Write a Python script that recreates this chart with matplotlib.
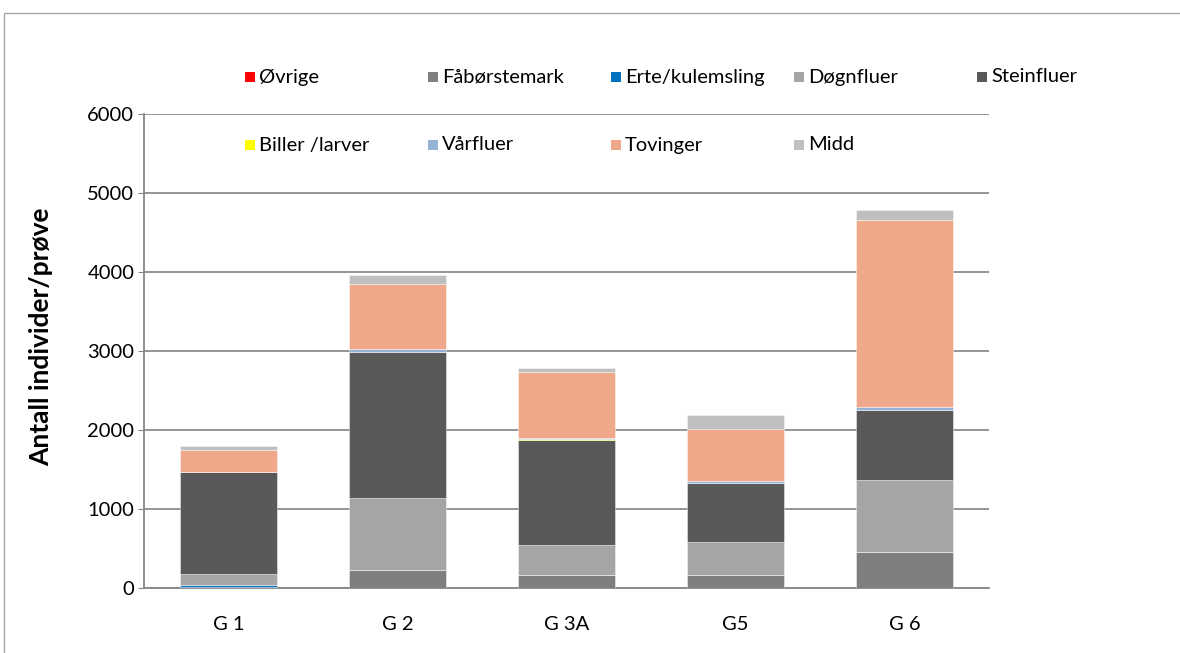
import matplotlib
matplotlib.use("Agg")
import matplotlib.pyplot as plt
from matplotlib.patches import Rectangle
import numpy as np

plt.rcParams['font.family'] = ['Lato', 'DejaVu Sans']

categories = ["G 1", "G 2", "G 3A", "G5", "G 6"]
series_names = ["Øvrige", "Fåbørstemark", "Erte/kulemsling", "Døgnfluer", "Steinfluer",
                "Biller /larver", "Vårfluer", "Tovinger", "Midd"]
ovrige = [0, 0, 0, 0, 0]
fabørstemark = [10, 231, 168, 168, 453]
erte = [30, 0, 0, 0, 0]
dognfluer = [132, 913, 379, 420, 914]
steinfluer = [1291, 1847, 1323, 740, 890]
biller = [0, 0, 10, 0, 0]
varfluer = [5, 30, 25, 30, 30]
tovinger = [278, 829, 834, 653, 2376]
midd = [54, 109, 46, 177, 126]
colors = ["#FF0000", "#7F7F7F", "#0070C0", "#A5A5A5", "#595959",
          "#FFFF00", "#95B3D7", "#F0A88A", "#BFBFBF"]
yticks = [0, 1000, 2000, 3000, 4000, 5000, 6000]

data = [ovrige, fabørstemark, erte, dognfluer, steinfluer, biller, varfluer, tovinger, midd]

fig = plt.figure(figsize=(11.8, 6.53), dpi=100)
ax = fig.add_axes([144/1180, 1-588/653, (989-144)/1180, (588-114)/653])

x = np.arange(len(categories))
bottom = np.zeros(len(categories))
for name, vals, c in zip(series_names, data, colors):
    ax.bar(x, vals, width=0.57, bottom=bottom, color=c, label=name,
           edgecolor=(1, 1, 1, 0.5), linewidth=0.6, zorder=3)
    bottom += np.array(vals)

ax.set_xlim(-0.5, 4.5)
ax.set_ylim(0, 6000)
ax.set_yticks(yticks)
ax.set_yticklabels([str(v) for v in yticks], fontsize=14.5)
ax.set_xticks(x)
ax.set_xticklabels(categories, fontsize=14.5)
ax.tick_params(axis='y', length=4, color='#868686', pad=3)
ax.tick_params(axis='x', length=0, pad=20)
ax.yaxis.grid(True, color='#8C8C8C', linewidth=1.3, zorder=0)
ax.set_axisbelow(True)
for s in ['top', 'right']:
    ax.spines[s].set_visible(False)
ax.spines['left'].set_color('#868686')
ax.spines['bottom'].set_color('#868686')
ax.spines['left'].set_linewidth(1.3)
ax.spines['bottom'].set_linewidth(1.3)
ax.set_ylabel("Antall individer/prøve", fontsize=19, fontweight='bold')
ax.yaxis.set_label_coords(-0.107, 0.53)

# legend: two rows, five columns, placed like the reference
col_x = [245, 428, 611, 794, 977]
row_y = [77, 145]
order = [[0, 1, 2, 3, 4], [5, 6, 7, 8]]
W, H = 1180.0, 653.0
for r, idxs in enumerate(order):
    for cidx, i in enumerate(idxs):
        x0 = col_x[cidx]
        y0 = row_y[r]
        fig.add_artist(Rectangle((x0 / W, 1 - (y0 + 5) / H), 10 / W, 10 / H,
                                 transform=fig.transFigure, facecolor=colors[i],
                                 edgecolor='none'))
        fig.text((x0 + 14) / W, 1 - y0 / H, series_names[i], fontsize=14.5,
                 va='center', ha='left')

fig.add_artist(Rectangle((4/1180, -0.1), 1.2, 1.1 - 13/653, transform=fig.transFigure,
                         fill=False, edgecolor='#A6A6A6', linewidth=1.0))

fig.savefig("out.png", dpi=100)
